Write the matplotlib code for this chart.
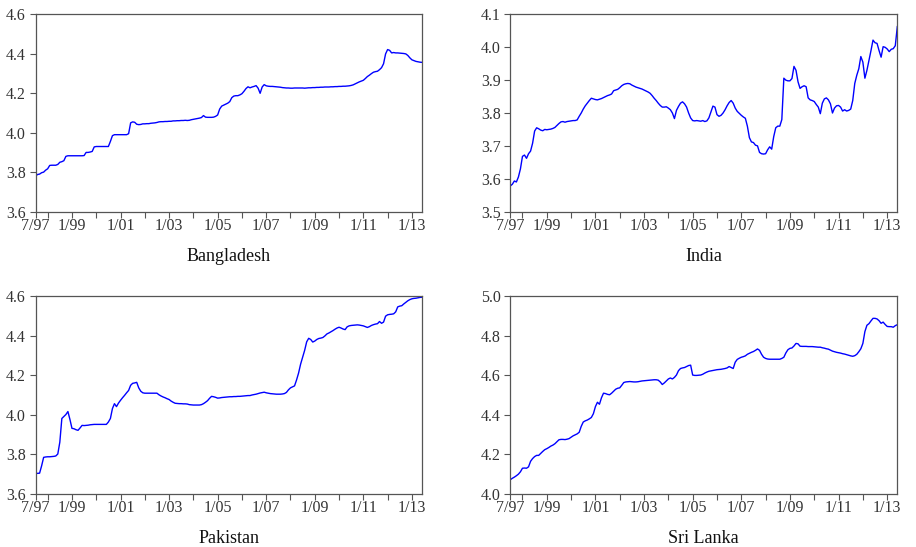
import numpy as np
import matplotlib
matplotlib.use("Agg")
import matplotlib.pyplot as plt

# Monthly series, 7/97 .. 6/13 (log levels)
BANGLADESH = [
    3.780, 3.788, 3.790, 3.797, 3.800, 3.810, 3.817, 3.834, 3.835, 3.835,
    3.835, 3.839, 3.850, 3.853, 3.858, 3.880, 3.883, 3.883, 3.883, 3.883,
    3.883, 3.883, 3.883, 3.883, 3.884, 3.900, 3.900, 3.902, 3.905, 3.928,
    3.930, 3.930, 3.930, 3.930, 3.930, 3.930, 3.930, 3.956, 3.985, 3.990,
    3.990, 3.990, 3.990, 3.990, 3.990, 3.990, 3.995, 4.050, 4.055, 4.053,
    4.043, 4.041, 4.042, 4.045, 4.045, 4.046, 4.046, 4.048, 4.049, 4.050,
    4.052, 4.055, 4.056, 4.056, 4.057, 4.057, 4.058, 4.058, 4.060, 4.060,
    4.061, 4.061, 4.062, 4.062, 4.063, 4.062, 4.063, 4.066, 4.068, 4.070,
    4.072, 4.074, 4.077, 4.087, 4.079, 4.078, 4.078, 4.078, 4.079, 4.083,
    4.090, 4.120, 4.135, 4.140, 4.145, 4.150, 4.158, 4.178, 4.186, 4.188,
    4.188, 4.192, 4.198, 4.210, 4.224, 4.233, 4.228, 4.232, 4.235, 4.239,
    4.226, 4.200, 4.232, 4.244, 4.238, 4.236, 4.235, 4.235, 4.234, 4.233,
    4.232, 4.231, 4.229, 4.228, 4.227, 4.227, 4.226, 4.226, 4.227, 4.227,
    4.227, 4.227, 4.227, 4.226, 4.227, 4.228, 4.228, 4.229, 4.229, 4.230,
    4.230, 4.231, 4.231, 4.232, 4.232, 4.232, 4.233, 4.233, 4.234, 4.234,
    4.235, 4.235, 4.236, 4.236, 4.237, 4.238, 4.240, 4.243, 4.248, 4.253,
    4.258, 4.262, 4.266, 4.275, 4.285, 4.292, 4.300, 4.307, 4.310, 4.312,
    4.320, 4.330, 4.350, 4.400, 4.422, 4.418, 4.405, 4.407, 4.405, 4.405,
    4.404, 4.403, 4.402, 4.400, 4.392, 4.380, 4.370, 4.366, 4.362, 4.360,
    4.358, 4.357,
]

INDIA = [
    3.578, 3.583, 3.593, 3.590, 3.605, 3.630, 3.668, 3.672, 3.662, 3.676,
    3.684, 3.708, 3.745, 3.755, 3.752, 3.748, 3.746, 3.750, 3.749, 3.750,
    3.751, 3.753, 3.756, 3.762, 3.768, 3.773, 3.774, 3.772, 3.774, 3.775,
    3.776, 3.777, 3.777, 3.779, 3.790, 3.800, 3.812, 3.822, 3.830, 3.838,
    3.845, 3.843, 3.841, 3.840, 3.842, 3.844, 3.847, 3.850, 3.853, 3.855,
    3.858, 3.868, 3.870, 3.872, 3.877, 3.883, 3.887, 3.889, 3.890, 3.889,
    3.885, 3.882, 3.879, 3.877, 3.875, 3.873, 3.870, 3.867, 3.864, 3.860,
    3.853, 3.845, 3.838, 3.830, 3.823, 3.818, 3.818, 3.819, 3.815, 3.810,
    3.800, 3.783, 3.808, 3.820, 3.830, 3.834, 3.828, 3.818, 3.800, 3.785,
    3.777, 3.776, 3.777, 3.776, 3.775, 3.777, 3.774, 3.776, 3.785, 3.803,
    3.821, 3.818, 3.795, 3.790, 3.793, 3.800, 3.810, 3.822, 3.832, 3.838,
    3.830, 3.815, 3.805, 3.799, 3.793, 3.788, 3.784, 3.760, 3.725, 3.712,
    3.710, 3.702, 3.700, 3.680, 3.676, 3.675, 3.676, 3.688, 3.697, 3.690,
    3.728, 3.755, 3.760, 3.760, 3.780, 3.906, 3.900, 3.898, 3.898, 3.905,
    3.942, 3.930, 3.895, 3.875, 3.880, 3.883, 3.880, 3.846, 3.840, 3.838,
    3.835, 3.826, 3.818, 3.798, 3.830, 3.843, 3.846, 3.840, 3.828, 3.800,
    3.815, 3.822, 3.823, 3.818, 3.806, 3.810, 3.806, 3.808, 3.812, 3.838,
    3.890, 3.915, 3.935, 3.972, 3.955, 3.906, 3.930, 3.960, 3.990, 4.022,
    4.014, 4.012, 3.990, 3.970, 4.002, 4.000, 3.995, 3.987, 3.994, 3.996,
    4.005, 4.063,
]

PAKISTAN = [
    3.702, 3.702, 3.703, 3.740, 3.783, 3.785, 3.786, 3.786, 3.787, 3.788,
    3.790, 3.800, 3.860, 3.980, 3.990, 4.000, 4.015, 3.975, 3.930, 3.928,
    3.923, 3.920, 3.932, 3.945, 3.944, 3.945, 3.946, 3.948, 3.949, 3.950,
    3.950, 3.950, 3.950, 3.950, 3.950, 3.950, 3.962, 3.980, 4.030, 4.055,
    4.040, 4.058, 4.072, 4.085, 4.097, 4.110, 4.122, 4.148, 4.158, 4.160,
    4.163, 4.135, 4.118, 4.110, 4.108, 4.108, 4.108, 4.108, 4.108, 4.108,
    4.108, 4.100, 4.094, 4.089, 4.085, 4.080, 4.076, 4.068, 4.062, 4.057,
    4.056, 4.055, 4.055, 4.054, 4.054, 4.053, 4.050, 4.049, 4.048, 4.048,
    4.048, 4.048, 4.050, 4.055, 4.062, 4.070, 4.082, 4.092, 4.090, 4.087,
    4.083, 4.084, 4.086, 4.087, 4.088, 4.089, 4.090, 4.090, 4.091, 4.091,
    4.092, 4.092, 4.093, 4.094, 4.095, 4.096, 4.096, 4.099, 4.101, 4.103,
    4.106, 4.109, 4.111, 4.113, 4.110, 4.108, 4.106, 4.105, 4.104, 4.103,
    4.103, 4.103, 4.104, 4.106, 4.112, 4.125, 4.135, 4.140, 4.145, 4.175,
    4.210, 4.255, 4.290, 4.325, 4.368, 4.386, 4.380, 4.367, 4.372, 4.380,
    4.385, 4.387, 4.390, 4.398, 4.408, 4.413, 4.419, 4.425, 4.432, 4.438,
    4.442, 4.438, 4.433, 4.430, 4.444, 4.449, 4.451, 4.452, 4.453, 4.454,
    4.453, 4.451, 4.449, 4.445, 4.441, 4.445, 4.451, 4.455, 4.458, 4.460,
    4.471, 4.462, 4.468, 4.498, 4.505, 4.507, 4.508, 4.510, 4.520, 4.545,
    4.549, 4.551, 4.560, 4.568, 4.576, 4.582, 4.586, 4.588, 4.589, 4.591,
    4.593, 4.594,
]

SRI_LANKA = [
    4.070, 4.077, 4.083, 4.090, 4.098, 4.110, 4.128, 4.129, 4.128, 4.135,
    4.163, 4.177, 4.187, 4.193, 4.193, 4.203, 4.213, 4.222, 4.227, 4.233,
    4.240, 4.245, 4.252, 4.262, 4.272, 4.274, 4.274, 4.273, 4.275, 4.278,
    4.285, 4.292, 4.297, 4.302, 4.310, 4.340, 4.362, 4.368, 4.372, 4.378,
    4.385, 4.404, 4.440, 4.462, 4.452, 4.485, 4.508, 4.506, 4.502, 4.500,
    4.508, 4.518, 4.528, 4.533, 4.535, 4.548, 4.562, 4.565, 4.566, 4.567,
    4.566, 4.565, 4.565, 4.566, 4.568, 4.570, 4.571, 4.572, 4.573, 4.574,
    4.575, 4.576, 4.576, 4.574, 4.565, 4.552, 4.560, 4.570, 4.580, 4.585,
    4.580, 4.588, 4.600, 4.622, 4.633, 4.636, 4.638, 4.643, 4.648, 4.650,
    4.600, 4.598, 4.598, 4.599, 4.600, 4.604, 4.610, 4.615, 4.619, 4.621,
    4.623, 4.625, 4.627, 4.628, 4.629, 4.631, 4.633, 4.636, 4.643, 4.638,
    4.633, 4.665, 4.679, 4.685, 4.690, 4.693, 4.697, 4.705, 4.710, 4.715,
    4.719, 4.725, 4.732, 4.725, 4.705, 4.690, 4.684, 4.681, 4.680, 4.680,
    4.680, 4.680, 4.680, 4.680, 4.684, 4.690, 4.712, 4.728, 4.735, 4.737,
    4.747, 4.760, 4.758, 4.746, 4.745, 4.745, 4.745, 4.744, 4.744, 4.744,
    4.743, 4.742, 4.741, 4.741, 4.738, 4.736, 4.733, 4.731, 4.726, 4.721,
    4.718, 4.715, 4.713, 4.711, 4.708, 4.706, 4.703, 4.700, 4.697, 4.695,
    4.698, 4.705, 4.718, 4.733, 4.760, 4.820, 4.852, 4.860, 4.874, 4.887,
    4.887, 4.884, 4.875, 4.862, 4.868, 4.856, 4.846, 4.845, 4.845, 4.842,
    4.850, 4.855,
]

# x-axis: month index from 7/97; labels every 2 years, ticks every January
DATE_LABELS = ["7/97", "1/99", "1/01", "1/03", "1/05", "1/07", "1/09", "1/11", "1/13"]
LABEL_MONTHS = [0, 18, 42, 66, 90, 114, 138, 162, 186]
JAN_MONTHS = [6, 30, 54, 78, 102, 126, 150, 174]

plt.rcParams['font.family'] = ['Liberation Serif', 'DejaVu Serif']

fig = plt.figure(figsize=(9.16, 5.47), dpi=100)

panels = [
    ("Bangladesh", BANGLADESH, (3.6, 4.6), 0.2, [0.0388, 0.6133, 0.4219, 0.3602]),
    ("India", INDIA, (3.5, 4.1), 0.1, [0.5571, 0.6133, 0.4225, 0.3602]),
    ("Pakistan", PAKISTAN, (3.6, 4.6), 0.2, [0.0388, 0.0978, 0.4219, 0.3610]),
    ("Sri Lanka", SRI_LANKA, (4.0, 5.0), 0.2, [0.5571, 0.0978, 0.4225, 0.3610]),
]

for name, vals, ylim, step, pos in panels:
    ax = fig.add_axes(pos)
    x = np.arange(len(vals))
    ax.plot(x, vals, color='#0000ff', lw=1.0)

    ax.set_xlim(0, len(vals) - 1)
    ax.set_ylim(*ylim)
    ax.set_yticks(np.arange(ylim[0], ylim[1] + step / 2, step))
    ax.yaxis.set_major_formatter(matplotlib.ticker.FormatStrFormatter('%.1f'))
    ax.set_xticks(LABEL_MONTHS)
    ax.set_xticklabels(DATE_LABELS)
    ax.set_xticks(JAN_MONTHS, minor=True)

    ax.tick_params(axis='both', which='both', direction='out', length=4,
                   width=0.8, color='#555555', labelsize=11.5, labelcolor='#333333')
    ax.tick_params(axis='x', pad=1)
    ax.tick_params(axis='y', pad=3)
    for sp in ax.spines.values():
        sp.set_color('#555555')
        sp.set_linewidth(0.9)

    # country name under each panel
    cx = pos[0] + pos[2] / 2
    fig.text(cx, pos[1] - 0.082, name, ha='center', va='center',
             fontsize=13, color='#111111')

fig.savefig("out.png", dpi=100)
